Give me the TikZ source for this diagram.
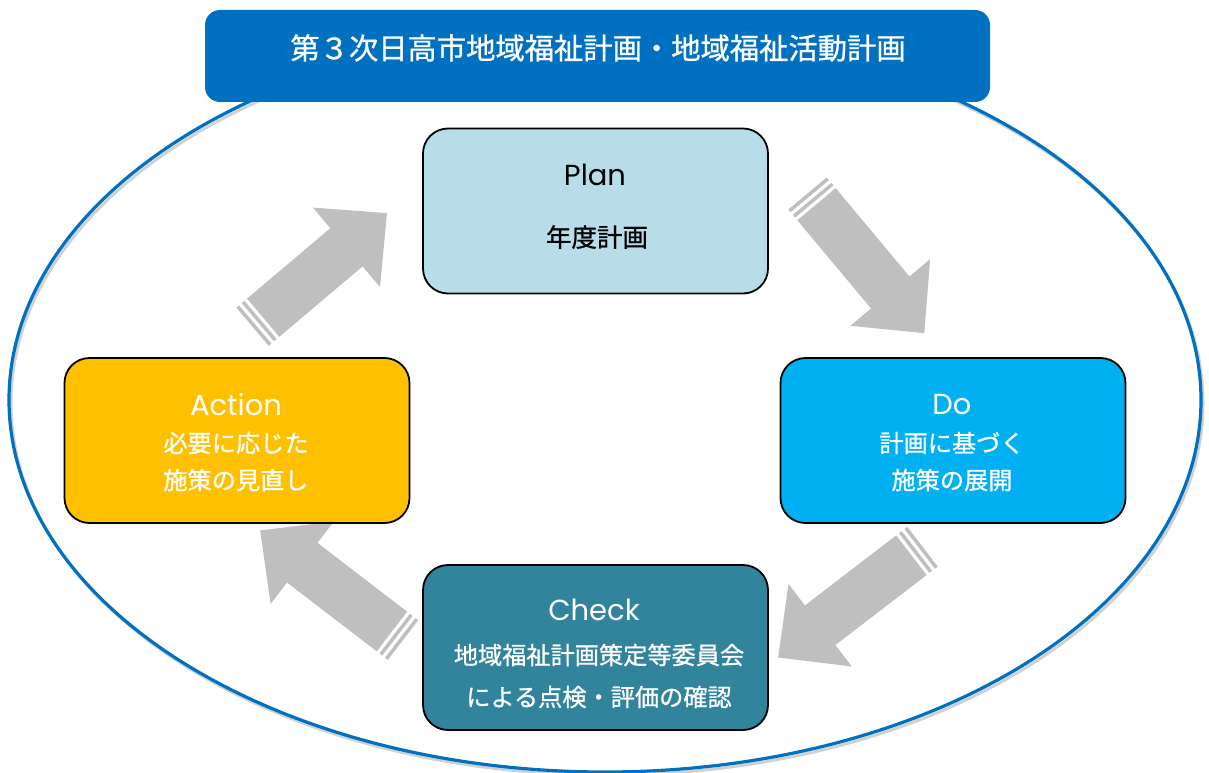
\documentclass[tikz,border=0pt]{standalone}
\usepackage{fontspec}
\setmainfont{Noto Sans CJK JP}
\newfontfamily\jpf{Noto Sans CJK JP}[FakeBold=0.9]
\newfontfamily\latf{Poppins}
\definecolor{titleblue}{HTML}{0070C0}
\definecolor{planc}{HTML}{B7DDE8}
\definecolor{doc}{HTML}{00B0F0}
\definecolor{checkc}{HTML}{31849B}
\definecolor{actc}{HTML}{FFC000}
\definecolor{arrowgray}{HTML}{BFBFBF}
\newcommand\blockarrow[4]{%
\begin{scope}[shift={(#1,#2)},rotate=#3]
 \fill[arrowgray] (0,-25) rectangle (3.5,25);
 \fill[arrowgray] (7,-25) rectangle (10.5,25);
 \fill[arrowgray] (14,-25) -- ({#4-53},-25) -- ({#4-53},-52) -- (#4,0) -- ({#4-53},52) -- ({#4-53},25) -- (14,25) -- cycle;
\end{scope}}
\begin{document}
\begin{tikzpicture}[x=1pt,y=-1pt,
  box/.style={draw=black,line width=1.8pt,rounded corners=25pt,minimum width=345pt,minimum height=165pt,inner sep=0pt},
  hd/.style={font=\latf\fontsize{29}{29}\selectfont,inner sep=0pt},
  jp/.style={font=\jpf\fontsize{24.2}{24}\selectfont,inner sep=0pt}]
\useasboundingbox (0,0) rectangle (1209,773);
% ellipse with soft shadow
\draw[black!18,line width=3pt] (607,403) ellipse [x radius=596pt, y radius=372pt];
\draw[titleblue,line width=3.2pt] (605,400) ellipse [x radius=596pt, y radius=372pt];
% title
\node[fill=titleblue,rounded corners=15pt,minimum width=785pt,minimum height=92pt,inner sep=0pt] (title) at (597.5,56) {};
\node[font=\jpf\fontsize{29.3}{29}\selectfont,text=white,inner sep=0pt] (titleT) at (598,48) {第３次日高市地域福祉計画・地域福祉活動計画};
% arrows
\blockarrow{807.5}{193.5}{-50.1}{182}
\blockarrow{922.5}{546.7}{-142.5}{182}
\blockarrow{403}{640}{142.5}{180}
\blockarrow{252.5}{326.7}{40.2}{176}
% boxes
\node[box,fill=planc] (plan) at (595.5,211) {};
\node[box,fill=doc] (do) at (953,440.5) {};
\node[box,fill=checkc] (check) at (595.5,647.5) {};
\node[box,fill=actc] (act) at (237,440.5) {};
% texts
\node[hd,text=black] (planH) at (595,175) {Plan};
\node[jp,text=black,font=\jpf\fontsize{25.5}{25}\selectfont] (planL) at (597,237) {年度計画};
\node[hd,text=white] (doH) at (952,405) {Do};
\node[jp,text=white] (doL1) at (952,443) {計画に基づく};
\node[jp,text=white] (doL2) at (952,480) {施策の展開};
\node[hd,text=white] (checkH) at (594,610) {Check};
\node[jp,text=white] (checkL1) at (599,655) {地域福祉計画策定等委員会};
\node[jp,text=white] (checkL2) at (599,697) {による点検・評価の確認};
\node[hd,text=white] (actH) at (236,405) {Action};
\node[jp,text=white] (actL1) at (236,443) {必要に応じた};
\node[jp,text=white] (actL2) at (236,480) {施策の見直し};
\end{tikzpicture}
\end{document}
